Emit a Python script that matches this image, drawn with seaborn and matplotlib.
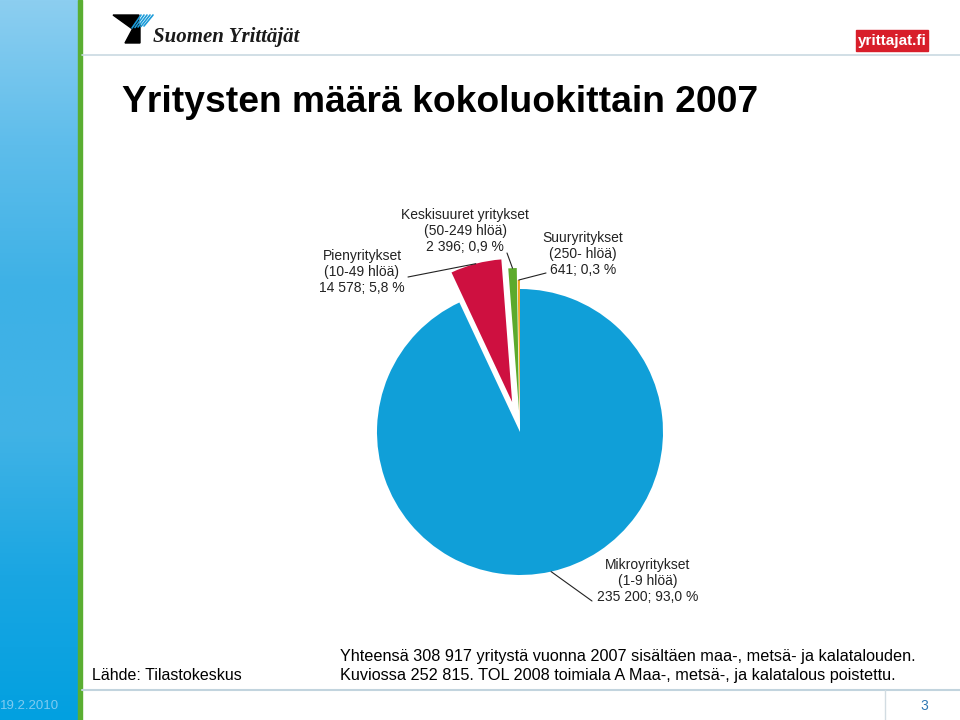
import numpy as np
import matplotlib
matplotlib.use("Agg")
import matplotlib.pyplot as plt
from matplotlib.colors import LinearSegmentedColormap
from matplotlib.patches import Rectangle, Polygon
import seaborn as sns

# ---------------- data ----------------
categories = ["Mikroyritykset\n(1-9 hlöä)",
              "Pienyritykset\n(10-49 hlöä)",
              "Keskisuuret yritykset\n(50-249 hlöä)",
              "Suuryritykset\n(250- hlöä)"]
counts = [235200, 14578, 2396, 641]
count_labels = ["235 200", "14 578", "2 396", "641"]
percents = ["93,0", "5,8", "0,9", "0,3"]
slice_colors = ["#109FD8", "#CE1040", "#5CAA2C", "#F2A41E"]

title = "Yritysten määrä kokoluokittain 2007"
source = "Lähde: Tilastokeskus"
note = ("Yhteensä 308 917 yritystä vuonna 2007 sisältäen maa-, metsä- ja kalatalouden.\n"
        "Kuviossa 252 815. TOL 2008 toimiala A Maa-, metsä-, ja kalatalous poistettu.")
date_text = "19.2.2010"
page_text = "3"

sns.set_theme(style="white")
plt.rcParams['font.family'] = ['Liberation Sans', 'DejaVu Sans']

W, H = 960, 720
fig = plt.figure(figsize=(9.6, 7.2), dpi=100)
ax = fig.add_axes([0, 0, 1, 1])

def Y(py):
    return H - py

# ---------------- sidebar ----------------
cmap = LinearSegmentedColormap.from_list(
    "side", ["#8CCEF0", "#5EBDEB", "#3DB1E6", "#41B3E6", "#1AA6E2", "#02A0E0"])
grad = np.linspace(0, 1, 256).reshape(-1, 1)
ax.imshow(grad, cmap=cmap, extent=(0, 78, 0, H), origin="upper", aspect="auto", zorder=0)
ax.add_patch(Rectangle((78, 0), 4, H, color="#5AAE32", zorder=1))
ax.text(30, Y(706), date_text, ha="center", va="center", fontsize=9.5,
        color="#7FCBF0", zorder=2)

# ---------------- separator lines ----------------
ax.plot([82, W], [Y(55), Y(55)], color="#C9D9E2", lw=1.2, zorder=1)
ax.plot([82, W], [Y(690), Y(690)], color="#C2D4DE", lw=1.5, zorder=1)
ax.plot([885, 885], [Y(690), Y(720)], color="#D2DCE2", lw=1.0, zorder=1)
ax.text(924, Y(706), page_text, ha="center", va="center", fontsize=10, color="#2E78B4")

# ---------------- logos ----------------
ax.add_patch(Polygon([(113, Y(15)), (139, Y(15)), (138, Y(33))], closed=True,
                     color="black", zorder=3))
ax.add_patch(Polygon([(133, Y(28)), (140, Y(24)), (140, Y(43)), (125, Y(43))],
                     closed=True, color="black", zorder=3))
for k in range(5):
    x0 = 141 + k * 3
    ax.plot([x0, x0 - 9], [Y(15), Y(28 - k * 0.5)], color="#1C9BD8", lw=1.2, zorder=3)
ax.text(153, Y(42), "Suomen Yrittäjät", ha="left", va="baseline", fontsize=15,
        fontweight="bold", fontstyle="italic", family="Liberation Serif", color="#1A1A1A")

ax.add_patch(Rectangle((856, Y(51)), 72, 21, color="#D81E2A", zorder=3))
ax.text(892, Y(40.5), "yrittajat.fi", ha="center", va="center", fontsize=11,
        fontweight="bold", color="white", zorder=4)

# ---------------- title ----------------
ax.text(122, Y(103), title, ha="left", va="center", fontsize=26.8, fontweight="bold",
        color="black")

# ---------------- pie ----------------
explode = [0, 31, 21, 9]   # offsets in pixels (data units of this canvas)
wedges, _ = ax.pie(counts, colors=sns.color_palette(slice_colors), explode=explode,
                   startangle=90, counterclock=False, center=(520, Y(432)), radius=143,
                   wedgeprops=dict(linewidth=0), frame=True)

label_pos = [(648, 581), (362, 272), (465, 231), (583, 254)]
line_end = [(592, 601), (408, 277), (507, 253), (546, 273)]
for w, cat, cl, pc, (tx, ty), (lx, ly) in zip(wedges, categories, count_labels,
                                               percents, label_pos, line_end):
    ang = np.deg2rad((w.theta1 + w.theta2) / 2)
    cx, cy = w.center
    px, py = cx + w.r * np.cos(ang), cy + w.r * np.sin(ang)
    ax.plot([px, lx], [py, Y(ly)], color="#222222", lw=0.8, zorder=5)
    ax.text(tx, Y(ty), f"{cat}\n{cl}; {pc} %", ha="center", va="center",
            multialignment="center", fontsize=10, linespacing=1.2, color="#222222",
            zorder=6)

# ---------------- footer ----------------
ax.text(92, Y(675), source, ha="left", va="center", fontsize=11.5, color="black")
ax.text(340, Y(666), note, ha="left", va="center", fontsize=11.7, linespacing=1.3,
        color="black")

ax.set_xlim(0, W)
ax.set_ylim(0, H)
ax.set_aspect("auto")
ax.axis("off")
fig.savefig("out.png", dpi=100, facecolor="white")
